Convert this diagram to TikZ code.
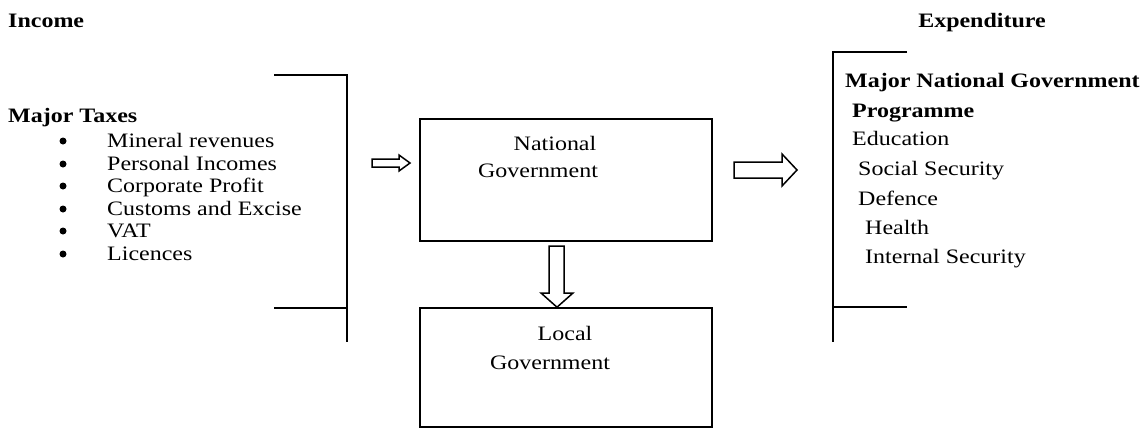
\documentclass[tikz,border=0pt]{standalone}
\usepackage{fontspec}
\setmainfont{Liberation Serif}[FakeStretch=1.17]
\usetikzlibrary{positioning}

\newcommand{\diagfont}{\fontsize{20.5}{24}\selectfont}
\tikzstyle{heading} = [font=\diagfont\bfseries, anchor=base west, inner sep=0]
\tikzstyle{item} = [anchor=base west, inner sep=0]
\tikzstyle{dot} = [circle, fill=black, inner sep=0, minimum size=7pt]
\tikzstyle{govbox} = [rectangle, draw=black, line width=1.6pt, minimum width=292pt, minimum height=122pt]
\tikzstyle{boxtext} = [anchor=base, inner sep=0]
\tikzstyle{bracket} = [line width=1.6pt]
\tikzstyle{hollow} = [draw=black, line width=1.5pt, fill=white, line join=miter]

\begin{document}
\begin{tikzpicture}[x=1pt, y=-1pt, font=\diagfont]
\useasboundingbox (0,0) rectangle (1148,428);

% headings
\node (income) [heading] at (8,28) {Income};
\node (expend) [heading, anchor=base] at (982,28) {Expenditure};

% income side
\node (taxes) [heading] at (8,122) {Major Taxes};
\node (dot1) [dot] at (63,141) {};
\node (dot2) [dot] at (63,164) {};
\node (dot3) [dot] at (63,186) {};
\node (dot4) [dot] at (63,209) {};
\node (dot5) [dot] at (63,231) {};
\node (dot6) [dot] at (63,254) {};
\node (tax1) [item] at (107,147) {Mineral revenues};
\node (tax2) [item] at (107,170) {Personal Incomes};
\node (tax3) [item] at (107,192) {Corporate Profit};
\node (tax4) [item] at (107,215) {Customs and Excise};
\node (tax5) [item] at (107,237) {VAT};
\node (tax6) [item] at (107,260) {Licences};
\draw [bracket] (274,75) -- (347,75) -- (347,342);
\draw [bracket] (274,308) -- (347,308);

% government boxes
\node (natgov) [govbox] at (566,180) {};
\node (natgov1) [boxtext] at (555,150) {National};
\node (natgov2) [boxtext] at (538,177) {Government};
\node (locgov) [govbox, minimum height=119pt] at (566,367.5) {};
\node (locgov1) [boxtext] at (565,340) {Local};
\node (locgov2) [boxtext] at (550,369) {Government};

% block arrows
\draw [hollow] (372,159) -- (399,159) -- (399,155) -- (410,163) -- (399,171) -- (399,167) -- (372,167) -- cycle;
\draw [hollow] (549,246) -- (564,246) -- (564,293) -- (573,293) -- ([xshift=-9pt]locgov.north) -- (541,293) -- (549,293) -- cycle;
\draw [hollow] (734,162) -- (782,162) -- (782,154) -- (797,170) -- (782,186) -- (782,178) -- (734,178) -- cycle;

% expenditure side
\draw [bracket] (907,52) -- (833,52) -- (833,342);
\draw [bracket] (833,307) -- (907,307);
\node (prog1) [heading] at (845,88) {Major National Government};
\node (prog2) [heading] at (852,117) {Programme};
\node (exp1) [item] at (852,145) {Education};
\node (exp2) [item] at (858,175) {Social Security};
\node (exp3) [item] at (858,205) {Defence};
\node (exp4) [item] at (865,234) {Health};
\node (exp5) [item] at (865,263) {Internal Security};

\end{tikzpicture}
\end{document}
